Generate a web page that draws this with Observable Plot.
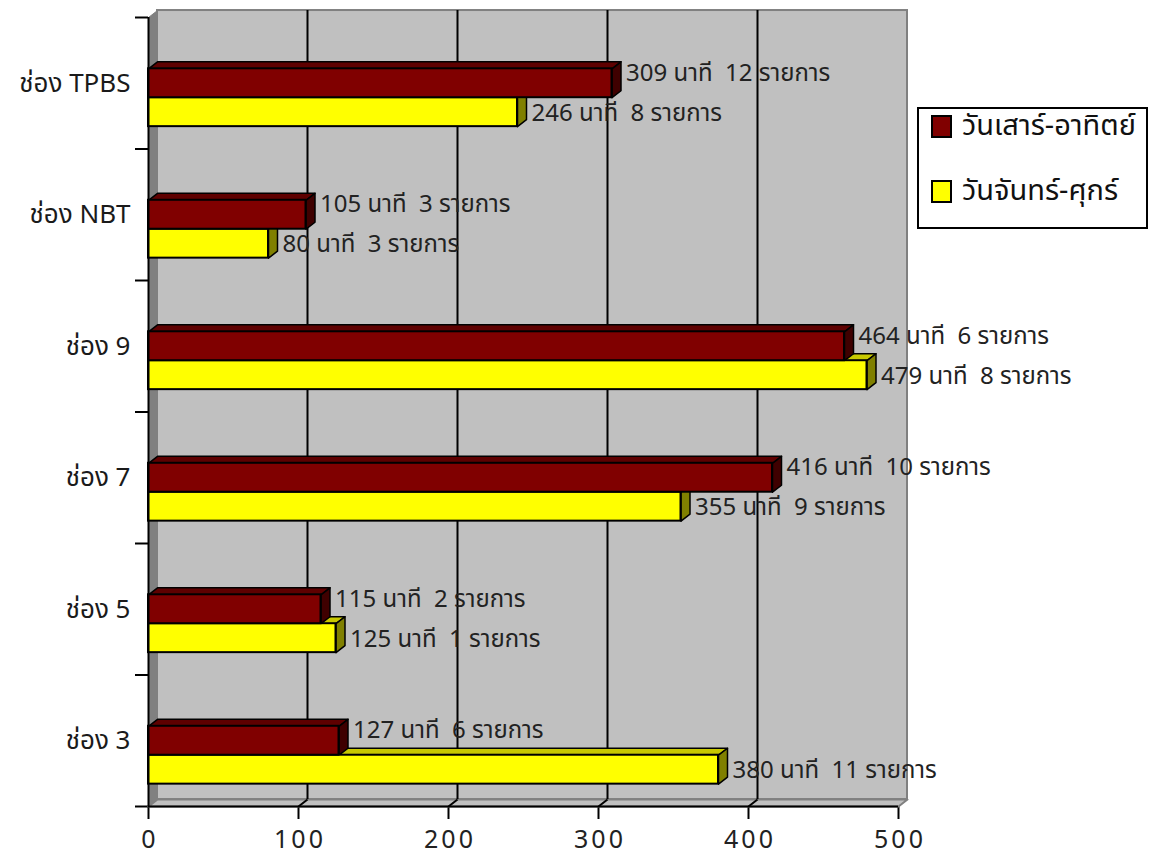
<!DOCTYPE html>
<html>
<head>
<meta charset="utf-8">
<script src="https://cdn.jsdelivr.net/npm/d3@7"></script>
<script src="https://cdn.jsdelivr.net/npm/@observablehq/plot@0.6"></script>
<style>
  html, body { margin: 0; padding: 0; background: #ffffff; }
  #wrap { position: relative; width: 1152px; height: 862px; font-family: "Noto Sans Thai", "Noto Sans", "DejaVu Sans", sans-serif; }
  #wrap svg text { white-space: pre; }
  #wrap svg [aria-label="x-axis tick label"] text { letter-spacing: 3px; }
  .legend { position: absolute; left: 917px; top: 107px; width: 227px; height: 118px;
            border: 2px solid #000; background: #fff; }
  .legend .item { position: absolute; left: 12px; display: flex; align-items: center; font-size: 29px; color: #111; white-space: nowrap; }
  .legend .sw { width: 17px; height: 19px; border: 2px solid #000; margin-right: 10px; }
</style>
</head>
<body>
<div id="wrap"></div>
<script>
// Broadcast time per channel: minutes and number of programmes
const channels = ["ช่อง 3", "ช่อง 5", "ช่อง 7", "ช่อง 9", "ช่อง NBT", "ช่อง TPBS"];
const weekendMinutes = [127, 115, 416, 464, 105, 309];
const weekendItems = [6, 2, 10, 6, 3, 12];
const weekdayMinutes = [380, 125, 355, 479, 80, 246];
const weekdayItems = [11, 1, 9, 8, 3, 8];
const seriesNames = ["วันเสาร์-อาทิตย์", "วันจันทร์-ศุกร์"];
const xTicks = [0, 100, 200, 300, 400, 500];

// colours per series: front, top, side
const palette = [
  {front: "#800000", top: "#5e0000", side: "#3f0000"},
  {front: "#ffff00", top: "#c8c800", side: "#808000"}
];

// 3D depth expressed in data units (x: minutes, y: category rows)
const DX = 6, DY = 0.053;
const LO = 0.17, MID = 0.39, HI = 0.61;
const XMAX = 500, NROW = channels.length;

const bars = [];
channels.forEach((c, i) => {
  bars.push({s: 1, i, value: weekdayMinutes[i], items: weekdayItems[i], y1: i + LO, y2: i + MID});
  bars.push({s: 0, i, value: weekendMinutes[i], items: weekendItems[i], y1: i + MID, y2: i + HI});
});

const poly = (pts, id) => pts.map(([x, y]) => ({x, y, id}));
const topFaces = s => bars.filter(b => b.s === s).flatMap((b, k) => poly([
  [0, b.y2], [b.value, b.y2], [b.value + DX, b.y2 + DY], [DX, b.y2 + DY], [0, b.y2]
], k));
const sideFaces = s => bars.filter(b => b.s === s).flatMap((b, k) => poly([
  [b.value, b.y1], [b.value, b.y2], [b.value + DX, b.y2 + DY], [b.value + DX, b.y1 + DY], [b.value, b.y1]
], k));

const leftWall = poly([[0, 0], [0, NROW], [DX, NROW + DY], [DX, DY], [0, 0]], 0);
const floor = poly([[0, 0], [XMAX, 0], [XMAX + DX, DY], [DX, DY], [0, 0]], 0);

const faceMarks = [];
for (const s of [1, 0]) faceMarks.push(Plot.line(topFaces(s), {x: "x", y: "y", z: "id", fill: palette[s].top, stroke: "#000", strokeWidth: 1.5}));
for (const s of [1, 0]) faceMarks.push(Plot.line(sideFaces(s), {x: "x", y: "y", z: "id", fill: palette[s].side, stroke: "#000", strokeWidth: 1.5}));
for (const s of [1, 0]) faceMarks.push(Plot.rect(bars.filter(b => b.s === s), {x1: 0, x2: "value", y1: "y1", y2: "y2", fill: palette[s].front, stroke: "#000", strokeWidth: 2}));

const label = d => `${d.value} นาที  ${d.items} รายการ`;

const chart = Plot.plot({
  width: 1152,
  height: 862,
  marginLeft: 148,
  marginRight: 254,
  marginTop: 17,
  marginBottom: 56,
  style: {fontFamily: "'Noto Sans Thai', 'Noto Sans', 'DejaVu Sans', sans-serif", fontSize: "20px", color: "#222", background: "transparent"},
  x: {domain: [0, XMAX], ticks: xTicks, tickSize: 13, tickPadding: 11, tickFormat: d => d, label: null},
  y: {domain: [0, NROW], ticks: d3.range(NROW + 1), tickSize: 13, tickFormat: () => "", label: null},
  marks: [
    // back wall, left wall, floor
    Plot.rect([0], {x1: DX, x2: XMAX + DX, y1: DY, y2: NROW + DY, fill: "#c0c0c0", stroke: "#808080", strokeWidth: 2}),
    Plot.line(leftWall, {x: "x", y: "y", fill: "#808080", stroke: "#808080", strokeWidth: 1}),
    Plot.line(floor, {x: "x", y: "y", fill: "#c0c0c0", stroke: "#808080", strokeWidth: 2}),
    // gridlines on the back wall and their floor connectors
    Plot.ruleX(xTicks.slice(1, -1), {x: d => d + DX, y1: DY, y2: NROW + DY, stroke: "#000", strokeWidth: 2}),
    Plot.link(xTicks.slice(1, -1), {x1: d => d, y1: 0, x2: d => d + DX, y2: DY, stroke: "#000", strokeWidth: 2}),
    ...faceMarks,
    // value labels
    Plot.text(bars.filter(b => b.s === 0), {x: "value", y: b => (b.y1 + b.y2) / 2, text: label, textAnchor: "start", dx: 14, dy: -10, fill: "#222", fontSize: 24}),
    Plot.text(bars.filter(b => b.s === 1), {x: "value", y: b => (b.y1 + b.y2) / 2, text: label, textAnchor: "start", dx: 14, dy: 1, fill: "#222", fontSize: 24}),
    // category labels
    Plot.text(channels, {x: 0, y: (d, i) => i + 0.5, text: d => d, textAnchor: "end", dx: -18, fill: "#1a1a1a", fontSize: 26}),
    // front axis lines
    Plot.ruleX([0], {y1: 0, y2: NROW, stroke: "#000", strokeWidth: 2}),
    Plot.ruleY([0], {x1: 0, x2: XMAX, stroke: "#000", strokeWidth: 2})
  ]
});

d3.select(chart).selectAll('[aria-label="x-axis tick"], [aria-label="y-axis tick"]').attr("stroke-width", 2).attr("stroke", "#000");
d3.select(chart).selectAll('[aria-label="x-axis tick label"]').attr("font-size", 25).attr("fill", "#222");
d3.select(chart).selectAll('[aria-label="x-axis tick label"] text').attr("dx", 1.5);

const wrap = document.getElementById("wrap");
wrap.appendChild(chart);

// legend box
const legend = document.createElement("div");
legend.className = "legend";
seriesNames.forEach((name, s) => {
  const item = document.createElement("div");
  item.className = "item";
  item.style.top = s === 0 ? "1px" : "66px";
  item.style.height = "32px";
  const sw = document.createElement("span");
  sw.className = "sw";
  sw.style.background = palette[s].front;
  const tx = document.createElement("span");
  tx.textContent = name;
  item.appendChild(sw);
  item.appendChild(tx);
  legend.appendChild(item);
});
wrap.appendChild(legend);
</script>
</body>
</html>
